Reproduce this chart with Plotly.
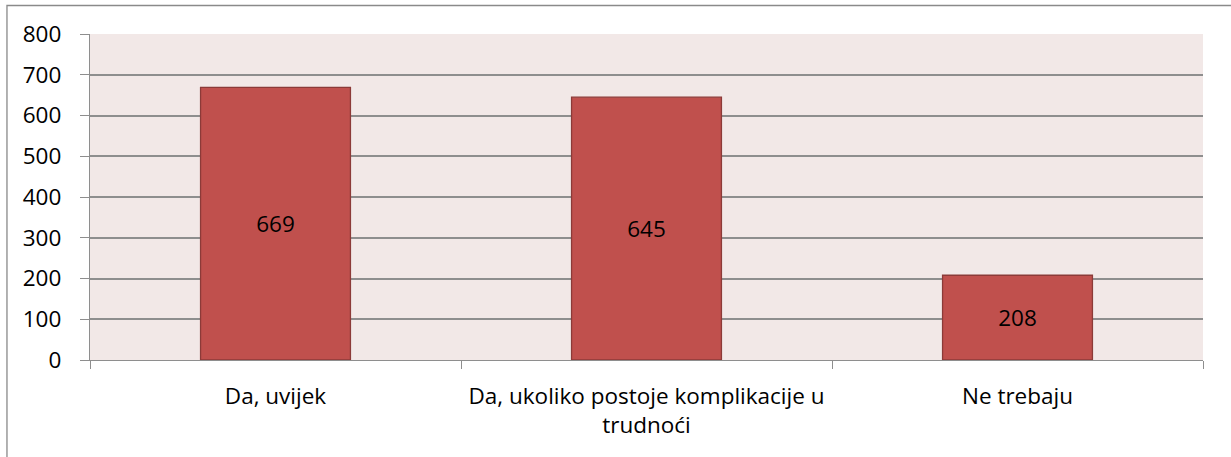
import plotly.graph_objects as go

categories = ["Da, uvijek", "Da, ukoliko postoje komplikacije u<br>trudnoći", "Ne trebaju"]
values = [669, 645, 208]
y_ticks = [0, 100, 200, 300, 400, 500, 600, 700, 800]

FONT = "Open Sans"
FS = 22.5
GRID = "#8E8E8E"

fig = go.Figure(
    go.Bar(
        x=categories,
        y=values,
        width=0.404,
        marker=dict(color="#C0504D", line=dict(color="#8C3A38", width=1.3)),
        text=[str(v) for v in values],
        textposition="inside",
        insidetextanchor="middle",
        textfont=dict(family=FONT, size=FS, color="#000000"),
    )
)

fig.update_layout(
    width=1231,
    height=457,
    margin=dict(l=90, r=28, t=34, b=97),
    paper_bgcolor="#FFFFFF",
    plot_bgcolor="#F2E8E7",
    showlegend=False,
    bargap=0.596,
    font=dict(family=FONT, size=FS, color="#000000"),
    shapes=[
        dict(
            type="rect", xref="paper", yref="paper",
            x0=-0.0746, x1=1.2, y0=-0.6, y1=1.0874,
            line=dict(color="#8A8A8A", width=1.3), fillcolor="rgba(0,0,0,0)", layer="below",
        )
    ],
)

fig.update_xaxes(
    type="category",
    showgrid=False,
    showline=True,
    linecolor=GRID,
    linewidth=1.3,
    ticks="outside",
    tickson="boundaries",
    ticklen=8,
    tickcolor=GRID,
    tickwidth=1.3,
    tickangle=0,
    automargin=False,
    ticklabelstandoff=16,
    tickfont=dict(family=FONT, size=FS, color="#000000"),
)

fig.update_yaxes(
    range=[0, 800],
    tickvals=y_ticks,
    showgrid=True,
    gridcolor=GRID,
    gridwidth=1.5,
    showline=True,
    linecolor=GRID,
    linewidth=1.3,
    ticks="outside",
    ticklen=9,
    tickcolor=GRID,
    tickwidth=1.3,
    zeroline=False,
    automargin=False,
    ticklabelstandoff=14,
    tickfont=dict(family=FONT, size=FS, color="#000000"),
)

fig.write_html(
    "out.html",
    config={"displayModeBar": False},
    post_script="document.body.style.margin='0';",
)
